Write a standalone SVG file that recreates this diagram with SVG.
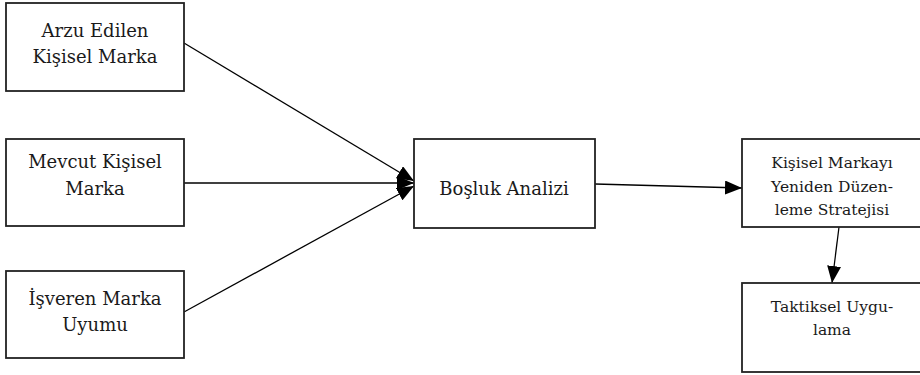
<svg xmlns="http://www.w3.org/2000/svg" width="920" height="375" viewBox="0 0 920 375">
<style>
.box{fill:#fff;stroke:#222;stroke-width:1.8}
text{font-family:'DejaVu Serif',serif;font-size:18px;fill:#1a1a1a;text-anchor:middle}
.s{font-size:15.5px}
.c{stroke:#000;stroke-width:1.3;fill:none;marker-end:url(#ah)}
</style>
<defs>
<marker id="ah" markerUnits="userSpaceOnUse" markerWidth="17" markerHeight="14" refX="17" refY="7" orient="auto">
<path d="M0,0 L17,7 L0,14 z" fill="#000"/>
</marker>
</defs>
<g id="connectors">
<line class="c" x1="184" y1="43" x2="414" y2="181"/>
<line class="c" x1="184" y1="183" x2="414" y2="183"/>
<line class="c" x1="184" y1="312" x2="414" y2="186"/>
<line class="c" x1="595" y1="184" x2="742" y2="188"/>
<line class="c" x1="839" y1="227" x2="832" y2="283"/>
</g>
<g id="n1"><rect class="box" x="6" y="3" width="178" height="88"/>
<text x="95" y="37">Arzu Edilen</text><text x="95" y="63">Kişisel Marka</text></g>
<g id="n2"><rect class="box" x="6" y="139" width="178" height="87"/>
<text x="95" y="168">Mevcut Kişisel</text><text x="95" y="195">Marka</text></g>
<g id="n3"><rect class="box" x="6" y="271" width="178" height="87"/>
<text x="95" y="305">İşveren Marka</text><text x="95" y="331">Uyumu</text></g>
<g id="n4"><rect class="box" x="414" y="139" width="181" height="89"/>
<text x="504" y="195">Boşluk Analizi</text></g>
<g id="n5"><rect class="box" x="742" y="139" width="180" height="88"/>
<text class="s" x="832" y="168">Kişisel Markayı</text><text class="s" x="832" y="192">Yeniden Düzen-</text><text class="s" x="832" y="215">leme Stratejisi</text></g>
<g id="n6"><rect class="box" x="742" y="283" width="180" height="89"/>
<text class="s" x="832" y="312">Taktiksel Uygu-</text><text class="s" x="832" y="335">lama</text></g>
</svg>
